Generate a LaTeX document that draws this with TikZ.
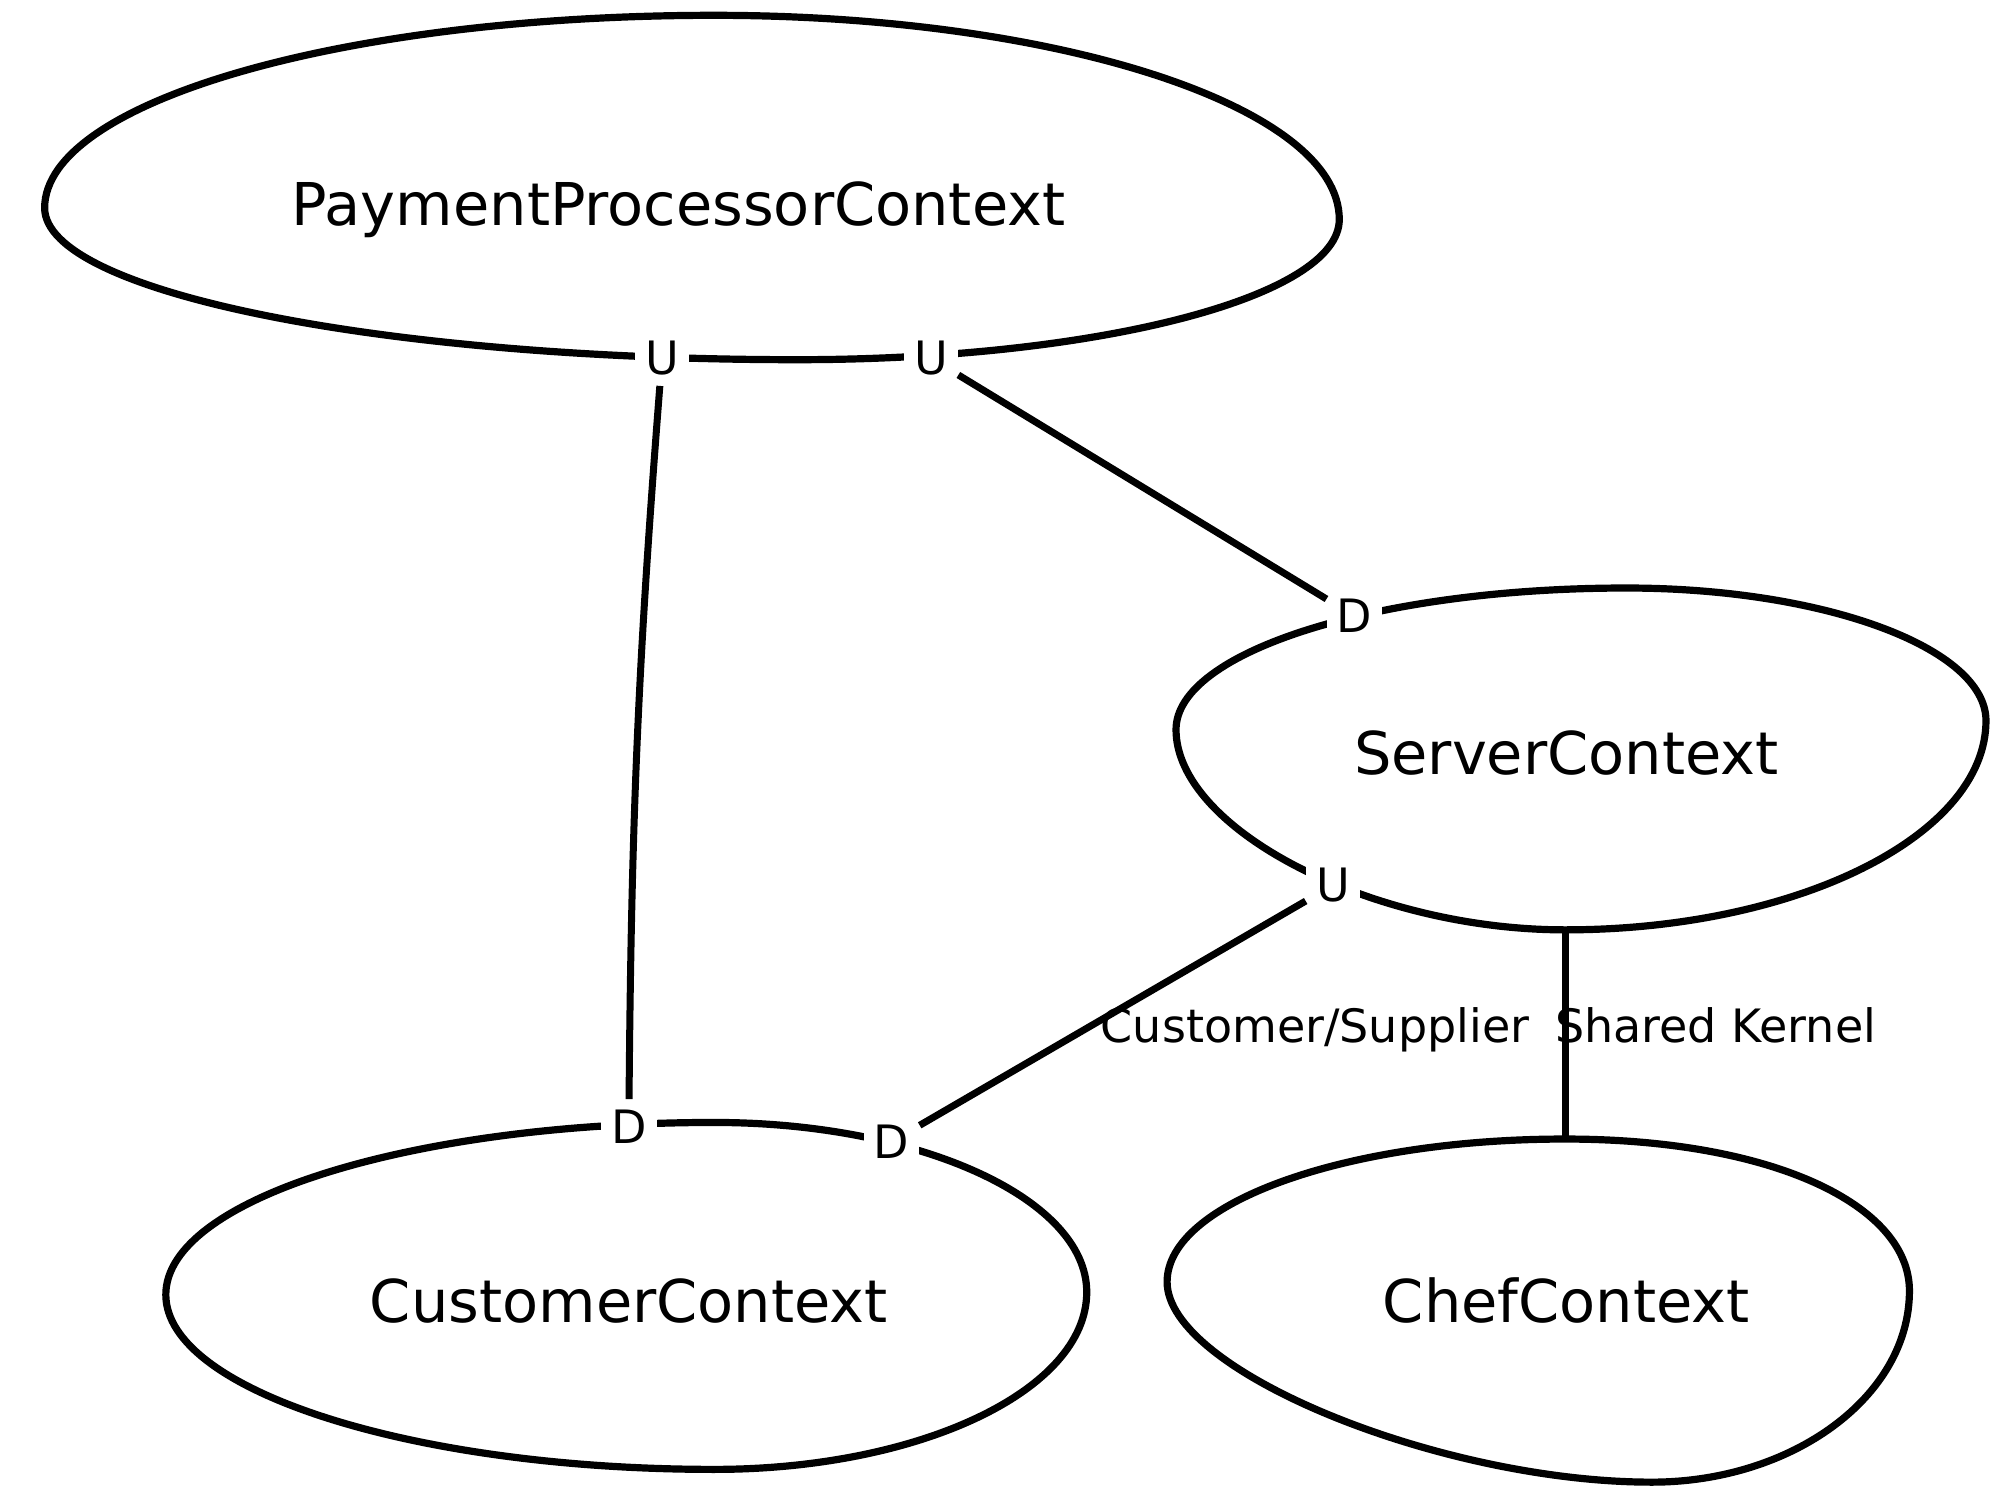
\documentclass[tikz,border=0pt]{standalone}
\usepackage{fontspec}
\setmainfont{DejaVu Sans}
\begin{document}
\begin{tikzpicture}[x=0.6378pt,y=-0.6378pt,
  blob/.style={line width=3.6pt, line join=round},
  conn/.style={line width=3.5pt},
  ctx/.style={font=\fontsize{29.5}{35}\selectfont, anchor=base, inner sep=0pt},
  ud/.style={fill=white, font=\fontsize{23}{28}\selectfont, inner sep=5pt},
  rel/.style={font=\fontsize{23}{28}\selectfont, anchor=base, inner sep=0pt}]
\useasboundingbox (0,0) rectangle (1568,1168);

% PaymentProcessorContext blob
\draw[blob] (35,163) .. controls (35,79.6) and (270,12) .. (560,12)
  .. controls (830,12) and (1050,84) .. (1050,172)
  .. controls (1050,233) and (860,282) .. (625,282)
  .. controls (299,282) and (35,229) .. cycle;
% ServerContext blob
\draw[blob] (922,572) .. controls (922,511) and (1080,461) .. (1275,461)
  .. controls (1430,461) and (1557,508) .. (1557,565)
  .. controls (1557,655) and (1409,729) .. (1227,729)
  .. controls (1075,729) and (922,650) .. cycle;
% CustomerContext blob
\draw[blob] (130,1015) .. controls (130,940) and (323,880) .. (560,880)
  .. controls (721,880) and (852,940) .. (852,1013)
  .. controls (852,1090) and (721,1152) .. (560,1152)
  .. controls (323,1152) and (130,1090) .. cycle;
% ChefContext blob
\draw[blob] (915,1005) .. controls (915,943) and (1055,893) .. (1227,893)
  .. controls (1390,893) and (1497,945) .. (1497,1012)
  .. controls (1497,1095) and (1405,1162) .. (1295,1162)
  .. controls (1130,1162) and (915,1075) .. cycle;

% context names
\node[ctx] (pp) at (532,177) {PaymentProcessorContext};
\node[ctx] (sv) at (1228,607) {ServerContext};
\node[ctx] (cu) at (493,1037) {CustomerContext};
\node[ctx] (ch) at (1228,1037) {ChefContext};

% relation labels
\node[rel] (csl) at (1031,817) {Customer/Supplier};
\node[rel] (skl) at (1345,817) {Shared Kernel};

% U / D ends
\node[ud] (ppU1) at (519,281) {U};
\node[ud] (ppU2) at (730,281) {U};
\node[ud] (svD) at (1062,483) {D};
\node[ud] (svU) at (1045,694) {U};
\node[ud] (cuD1) at (493,883) {D};
\node[ud] (cuD2) at (699,895) {D};
\coordinate (svB) at (1227,729);
\coordinate (chT) at (1227,893);

% relations
\draw[conn] (ppU1) to[bend right=2] (cuD1);
\draw[conn] (ppU2) -- (svD);
\draw[conn] (svU) -- (cuD2);
\draw[conn] (svB) -- (chT);
\end{tikzpicture}
\end{document}
